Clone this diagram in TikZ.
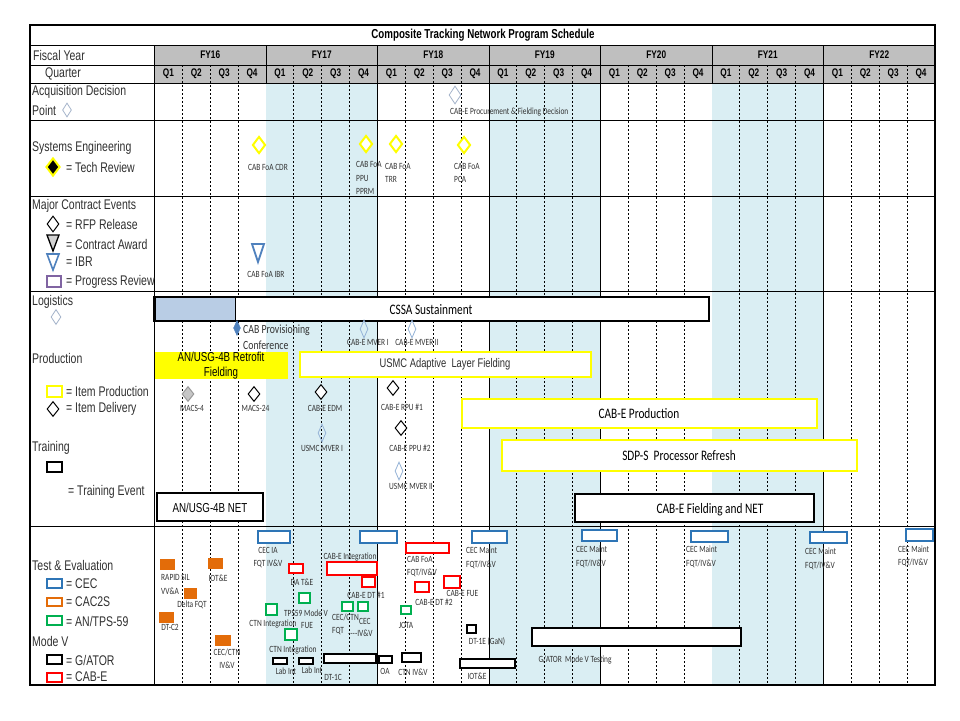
\documentclass[tikz,border=0pt]{standalone}
\usepackage{fontspec}
\setmainfont[FakeStretch=0.75]{Liberation Sans}
\newfontfamily\calfont[FakeStretch=0.78]{Carlito}
\usepackage{tikz}
\usetikzlibrary{shapes.geometric}
\definecolor{hdrgray}{HTML}{BFBFBF}
\definecolor{yrshade}{HTML}{DAEEF3}
\definecolor{lblgray}{HTML}{303030}
\definecolor{notegray}{HTML}{333333}
\definecolor{cecblue}{HTML}{2E75B6}
\definecolor{cacorange}{HTML}{E36C09}
\definecolor{tpsgreen}{HTML}{00B050}
\definecolor{cabred}{HTML}{FF0000}
\definecolor{mverblue}{HTML}{95B3D7}
\definecolor{adpgray}{HTML}{A5B4CB}
\definecolor{ibrblue}{HTML}{4F81BD}
\definecolor{prpurple}{HTML}{8064A2}
\definecolor{cssablue}{HTML}{B9CDE5}
\definecolor{yel}{HTML}{FFFF00}
\tikzset{
  rule/.style={draw=black, line width=0.9pt},
  frame/.style={draw=black, line width=1.3pt},
  qline/.style={draw=black, line width=0.8pt, dash pattern=on 2pt off 2pt},
  hdr/.style={font=\bfseries\fontsize{11}{13}\selectfont, inner sep=0pt},
  lbl/.style={font=\fontsize{14}{16}\selectfont, text=lblgray, anchor=west, inner sep=0pt},
  mid/.style={font=\fontsize{13}{15}\selectfont, inner sep=0pt, align=center},
  note/.style={font=\calfont\fontsize{9.5}{13.5}\selectfont, text=notegray, inner sep=0pt, align=center},
  notel/.style={note, anchor=west, align=left},
  bartxt/.style={font=\calfont\fontsize{14.5}{16}\selectfont, inner sep=0pt},
  ybar/.style={draw=yel, line width=2.5pt, fill=white},
  kbar/.style={draw=black, line width=2pt, fill=white},
  cec/.style={draw=cecblue, line width=1.8pt, fill=white},
  cac/.style={fill=cacorange, draw=cacorange, line width=0.5pt},
  tps/.style={draw=tpsgreen, line width=1.5pt, fill=white},
  cab/.style={draw=cabred, line width=1.8pt, fill=white},
  gat/.style={draw=black, line width=1.5pt, fill=white},
  ydia/.style={diamond, draw=yel, line width=2pt, fill=white, minimum width=13pt, minimum height=17pt, inner sep=0pt},
  kdia/.style={diamond, draw=black, line width=1pt, fill=white, minimum width=12pt, minimum height=15pt, inner sep=0pt},
  gdia/.style={kdia, draw=gray!80, fill=gray!45},
  mdia/.style={diamond, draw=mverblue, line width=0.8pt, minimum width=8pt, minimum height=18pt, inner sep=0pt},
  adia/.style={diamond, draw=adpgray, line width=0.8pt, fill=white, minimum width=12pt, minimum height=18pt, inner sep=0pt},
  pdia/.style={diamond, draw=ibrblue, fill=ibrblue, minimum width=7pt, minimum height=15pt, inner sep=0pt},
}
\def\Xo{154.5}
\def\Yw{111.5}
\def\Qw{27.875}
\def\Top{83}
\def\Bot{685}

\begin{document}
\begin{tikzpicture}[x=1pt, y=-1pt]

  \useasboundingbox[fill=white] (0,0) rectangle (960,720);

  % grid
  \foreach \k in {1,3,5}
    \fill[yrshade] ({\Xo+\k*\Yw},\Top) rectangle ({\Xo+(\k+1)*\Yw},\Bot);
  \fill[hdrgray] (\Xo,45) rectangle (935,83);
  \foreach \yr in {0,...,6}
    \foreach \q in {1,2,3}
      \draw[qline] ({\Xo+\yr*\Yw+\q*\Qw},65) -- ({\Xo+\yr*\Yw+\q*\Qw},\Bot);
  \foreach \yr in {1,...,6}
    \draw[rule] ({\Xo+\yr*\Yw},45) -- ({\Xo+\yr*\Yw},\Top);
  \foreach \yr in {2,3,4,6}
    \draw[rule] ({\Xo+\yr*\Yw},\Top) -- ({\Xo+\yr*\Yw},\Bot);
  \foreach \y in {45,65,83,120,196,291,526}
    \draw[rule] (30,\y) -- (935,\y);
  \draw[rule] (\Xo,45) -- (\Xo,\Bot);
  \draw[frame] (30,25) rectangle (935,\Bot);

  % header
  \node[hdr, font=\bfseries\fontsize{13}{15}\selectfont] (title) at (483,35) {Composite Tracking Network Program Schedule};
  \node[lbl] (fiscal) at (33,55) {Fiscal Year};
  \node[lbl] (quarter) at (45,74) {Quarter};
  \foreach \yr [count=\i from 0] in {16,...,22} {
    \node[hdr] (fy\yr) at ({\Xo+(\i+0.5)*\Yw},55) {FY\yr};
    \foreach \q in {1,...,4}
      \node[hdr] (q\yr\q) at ({\Xo+\i*\Yw+(\q-0.5)*\Qw},74) {Q\q};
  }

  % acquisition decision
  \node[lbl] (acq) at (32,92) {Acquisition Decision};
  \node[lbl] (acqpt) at (32,110) {Point};
  \node[adia, minimum width=9pt, minimum height=14pt] (acqkey) at (67,110) {};
  \node[adia] (cabedec) at (455,95) {};
  \node[notel] (cabedect) at (450,112) {CAB-E Procurement \& Fielding Decision};

  % systems engineering
  \node[lbl] (se) at (32,148) {Systems Engineering};
  \node[ydia, fill=black, minimum width=14pt, minimum height=18pt] (sekey) at (53,167) {};
  \node[lbl] (sekeyt) at (66,167) {= Tech Review};
  \node[ydia] (cdr) at (259,145) {};
  \node[note] (cdrt) at (268,167) {CAB FoA CDR};
  \node[ydia] (pprm) at (366,144) {};
  \node[notel] (pprmt) at (356,178) {CAB FoA\\PPU\\PPRM};
  \node[ydia] (trr) at (396,144) {};
  \node[notel] (trrt) at (385,173) {CAB FoA\\TRR};
  \node[ydia] (pca) at (464,145) {};
  \node[notel] (pcat) at (454,173) {CAB FoA\\PCA};

  % major contract events
  \node[lbl] (mce) at (32,206) {Major Contract Events};
  \node[kdia, minimum height=16pt] (rfpkey) at (53,224) {};
  \node[lbl] (rfpkeyt) at (66,224) {= RFP Release};
  \filldraw[fill=gray!35, draw=black, line width=1.3pt] (47,235) -- (59,235) -- (53,251) -- cycle;
  \node[lbl] (cakeyt) at (66,244) {= Contract Award};
  \filldraw[fill=white, draw=ibrblue, line width=1.6pt] (47,254) -- (59,254) -- (53,270) -- cycle;
  \node[lbl] (ibrkeyt) at (66,262) {= IBR};
  \draw[draw=prpurple, line width=1.8pt] (47,276) rectangle (61,287);
  \node[lbl] (prkeyt) at (66,282) {= Progress Review};
  \filldraw[fill=white, draw=ibrblue, line width=1.8pt] (252,244) -- (264,244) -- (258,262) -- cycle;
  \node[note] (ibrt) at (266,274) {CAB FoA IBR};

  % logistics
  \node[lbl] (logi) at (32,302) {Logistics};
  \node[adia, minimum width=10pt, minimum height=15pt] (logkey) at (56,317) {};
  \fill[white] (\Xo,297) rectangle (709,321);
  \fill[cssablue] (\Xo,297) rectangle (235,321);
  \draw[draw=black, line width=1pt] (235,297) -- (235,321);
  \draw[draw=black, line width=2.5pt] (\Xo,297) rectangle (709,321);
  \node[bartxt] (cssa) at (431,310) {CSSA Sustainment};
  \node[pdia] (prov) at (237,328) {};
  \node[notel, font=\calfont\fontsize{12.5}{16}\selectfont] (provt) at (243,337) {CAB Provisioning\\Conference};
  \node[mdia] (mver1) at (364,329) {};
  \node[note] (mver1t) at (368,342) {CAB-E MVER I};
  \node[mdia] (mver2) at (412,329) {};
  \node[note] (mver2t) at (417,342) {CAB-E MVER II};

  % production
  \node[lbl] (prod) at (32,358) {Production};
  \fill[yel] (\Xo,352) rectangle (288,379);
  \node[mid] (retro) at (221,365.5) {AN/USG-4B Retrofit\\Fielding};
  \draw[ybar] (300,352) rectangle (591,377);
  \node[mid, text=lblgray, font=\fontsize{12.5}{15}\selectfont] (usmcalf) at (445,364.5) {USMC Adaptive\ \ Layer Fielding};
  \draw[draw=yel, line width=2pt] (47,386) rectangle (62,397);
  \node[lbl] (ipkeyt) at (66,391) {= Item Production};
  \node[kdia] (idkey) at (53,409) {};
  \node[lbl] (idkeyt) at (66,409) {= Item Delivery};
  \node[gdia] (macs4) at (188,394) {};
  \node[note] (macs4t) at (192,408) {MACS-4};
  \node[kdia] (macs24) at (254,394) {};
  \node[note] (macs24t) at (255.5,408) {MACS-24};
  \node[kdia] (edm) at (321,392) {};
  \node[note] (edmt) at (325,408) {CAB-E EDM};
  \node[mdia] (usmc1) at (322,433) {};
  \node[note] (usmc1t) at (322,448) {USMC MVER I};
  \node[kdia] (rpu1) at (393,388) {};
  \node[note] (rpu1t) at (402,407) {CAB-E RPU \#1};
  \node[kdia] (ppu2) at (401,428) {};
  \node[note] (ppu2t) at (410,448) {CAB-E PPU \#2};
  \node[mdia] (usmc2) at (399,471) {};
  \node[note] (usmc2t) at (411,486) {USMC MVER II};
  \draw[ybar] (462,399) rectangle (817,428);
  \node[bartxt] (cabprod) at (639,414) {CAB-E Production};
  \draw[ybar] (502,440) rectangle (857,471);
  \node[bartxt] (sdps) at (679,456) {SDP-S\ \ Processor Refresh};

  % training
  \node[lbl] (trn) at (32,448) {Training};
  \draw[kbar] (47,462) rectangle (62,472);
  \node[lbl] (trkeyt) at (68,492) {= Training Event};
  \draw[kbar] (157,493) rectangle (263,521);
  \node[mid] (usgnet) at (210,508) {AN/USG-4B NET};
  \draw[kbar] (575,494) rectangle (814,522);
  \node[bartxt] (cabenet) at (710,510) {CAB-E Fielding and NET};

  % test & evaluation legend
  \node[lbl] (te) at (32,565) {Test \& Evaluation};
  \draw[cec] (47,579) rectangle (62,588);
  \node[lbl] (ceckey) at (66,584) {= CEC};
  \draw[draw=cacorange, line width=1.8pt] (47,598) rectangle (62,606);
  \node[lbl] (cackey) at (66,602) {= CAC2S};
  \draw[tps] (47,616) rectangle (62,625);
  \node[lbl] (tpskey) at (66,621) {= AN/TPS-59};
  \node[lbl] (modev) at (32,641) {Mode V};
  \draw[gat] (47,655) rectangle (62,664);
  \node[lbl] (gatkey) at (66,660) {= G/ATOR};
  \draw[cab] (47,673) rectangle (62,682);
  \node[lbl] (cabkey) at (66,677) {= CAB-E};

  % CEC
  \draw[cec] (258,531) rectangle (290,543);
  \node[note] (cecia) at (268,557.5) {CEC IA\\FQT IV\&V};
  \draw[cec] (360,531) rectangle (397,543);
  \draw[cec] (472,531) rectangle (507,543);
  \node[notel] (cecm1) at (466,558) {CEC Maint\\FQT/IV\&V};
  \draw[cec] (582,530) rectangle (617,541);
  \node[notel] (cecm2) at (576,557) {CEC Maint\\FQT/IV\&V};
  \draw[cec] (691,531) rectangle (728,542);
  \node[notel] (cecm3) at (686,557) {CEC Maint\\FQT/IV\&V};
  \draw[cec] (810,532) rectangle (847,543);
  \node[notel] (cecm4) at (805,559) {CEC Maint\\FQT/IV\&V};
  \draw[cec] (906,529) rectangle (933,541);
  \node[notel] (cecm5) at (898,556.5) {CEC Maint\\FQT/IV\&V};

  % CAC2S
  \filldraw[cac] (160,559) rectangle (174,569);
  \node[notel] (rapid) at (161,584.5) {RAPID SIL\\VV\&A};
  \filldraw[cac] (208,558) rectangle (222,568);
  \node[note] (iote1) at (218,578) {IOT\&E};
  \filldraw[cac] (184,588) rectangle (196,598);
  \node[note] (delta) at (192,605) {Delta FQT};
  \filldraw[cac] (159,612) rectangle (173,622);
  \node[note] (dtc2) at (170,627) {DT-C2};
  \filldraw[cac] (215,635) rectangle (230,645);
  \node[note] (cecctn1) at (227,658.5) {CEC/CTN\\IV\&V};

  % AN/TPS-59
  \draw[tps] (266,604) rectangle (277,615);
  \node[note] (ctnint1) at (273,624) {CTN Integration};
  \draw[tps] (299,593) rectangle (310,603);
  \node[note] (tpsmv) at (306,613) {TPS59 Mode V};
  \node[note] (fue) at (307,625) {FUE};
  \draw[tps] (285,629) rectangle (297,640);
  \node[note] (ctnint2) at (293,650) {CTN Integration};
  \draw[tps] (342,602) rectangle (353,611);
  \node[notel] (cecctn2) at (332,624.5) {CEC/CTN\\FQT};
  \draw[tps] (358,602) rectangle (368,611);
  \node[notel] (cecivv) at (359,621) {CEC};
  \node[notel] (cecivv2) at (348,633) {{-}{-}{-}{-}IV\&V};
  \draw[tps] (401,606) rectangle (411,614);
  \node[note] (jota) at (406,625) {JOTA};

  % CAB-E
  \draw[cab] (289,564) rectangle (303,573);
  \node[note] (date) at (302,582) {DA T\&E};
  \draw[cab] (327,562) rectangle (377,575);
  \node[note] (cabint) at (350,557) {CAB-E Integration};
  \draw[cab] (362,577) rectangle (375,587);
  \node[note] (dt1) at (366,595) {CAB-E DT \#1};
  \draw[cab] (406,543) rectangle (449,553);
  \node[notel] (foafqt) at (407,566.5) {CAB FoA\\FQT/IV\&V};
  \draw[cab] (415,582) rectangle (429,592);
  \node[note] (dt2) at (434,602) {CAB-E DT \#2};
  \draw[cab] (444,576) rectangle (460,588);
  \node[note] (cabfue) at (462.5,593) {CAB-E FUE};

  % G/ATOR
  \draw[gat] (273,658) rectangle (287,664);
  \node[note] (labint1) at (286,671) {Lab Int};
  \draw[gat] (299,658) rectangle (313,664);
  \node[note] (labint2) at (312,670) {Lab Int};
  \draw[gat] (324,654) rectangle (376,663);
  \node[note] (dt1c) at (333,677) {DT-1C};
  \draw[gat] (379,656) rectangle (392,663);
  \node[note] (oa) at (385,671) {OA};
  \draw[gat] (402,653) rectangle (421,662);
  \node[note] (ctnivv) at (413,672) {CTN IV\&V};
  \draw[gat] (467,625) rectangle (476,633);
  \node[note] (dt1e) at (487,642) {DT-1E (GaN)};
  \draw[gat] (460,659) rectangle (515,668);
  \node[note] (iote2) at (477,676) {IOT\&E};
  \draw[gat] (532,628) rectangle (741,646);
  \node[note] (gmv) at (575,660) {G/ATOR\ \ Mode V Testing};

\end{tikzpicture}
\end{document}
